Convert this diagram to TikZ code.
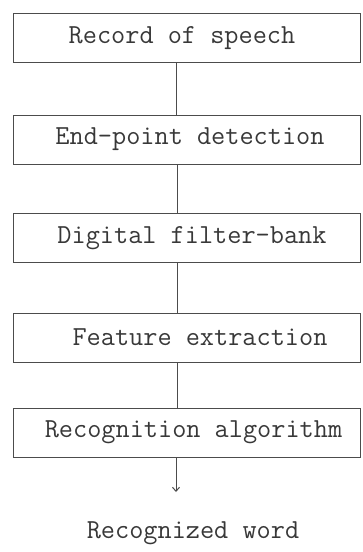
\documentclass[tikz,border=0pt]{standalone}
\usetikzlibrary{arrows.meta}
\newcommand{\tshift}[2]{\hspace*{#1}#2}
\begin{document}
\begin{tikzpicture}[x=1pt,y=-1pt,
  lbl/.style={font=\ttfamily\fontsize{27.5}{30}\selectfont, text=black!78},
  stagebox/.style={lbl, draw=black!70, line width=1pt, minimum width=347pt, minimum height=49pt,
    inner sep=0pt},
  link/.style={draw=black!70, line width=1pt}]
\useasboundingbox (0,0) rectangle (362,552);
\node[stagebox] (b1) at (186.5,38) {\tshift{-9pt}{Record of speech}};
\node[stagebox] (b2) at (186.5,139.5) {\tshift{7pt}{End-point detection}};
\node[stagebox] (b3) at (186.5,238) {\tshift{11pt}{Digital filter-bank}};
\node[stagebox] (b4) at (186.5,337.5) {\tshift{27pt}{Feature extraction}};
\node[stagebox] (b5) at (186.5,432.5) {\tshift{14pt}{Recognition algorithm}};
\node[lbl, inner sep=0pt] (out) at (193,533) {Recognized word};
\coordinate (tip) at (176,492);
\draw[link] ([xshift=-10pt]b1.south) -- ([xshift=-10pt]b2.north);
\draw[link] ([xshift=-9.5pt]b2.south) -- ([xshift=-9.5pt]b3.north);
\draw[link] ([xshift=-9pt]b3.south) -- ([xshift=-9pt]b4.north);
\draw[link] ([xshift=-9pt]b4.south) -- ([xshift=-9pt]b5.north);
\draw[link, -{Straight Barb[length=4pt,width=7pt]}] ([xshift=-10.5pt]b5.south) -- (tip);
\end{tikzpicture}
\end{document}
